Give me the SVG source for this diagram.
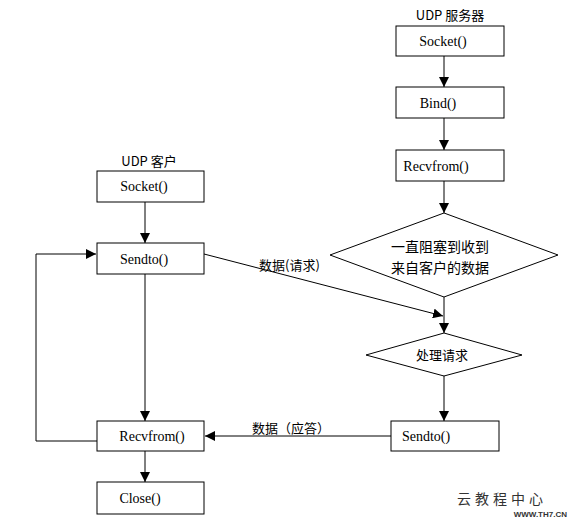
<svg xmlns="http://www.w3.org/2000/svg" width="572" height="521" viewBox="0 0 572 521">
<defs>
<style>
.box{fill:#fff;stroke:#000;stroke-width:1}
.lat{font-family:"Liberation Serif","Noto Sans CJK SC",serif;font-size:14px;fill:#000}
.cjk{font-family:"Noto Sans CJK SC",sans-serif;font-size:13px;fill:#000}
.big{font-size:14px}
.ln{fill:none;stroke:#000;stroke-width:1}
</style>
<marker id="ah" viewBox="0 0 10 10" refX="10" refY="5" markerWidth="10" markerHeight="10" markerUnits="userSpaceOnUse" orient="auto">
<path d="M0,0 L10,5 L0,10 z" fill="#000"/>
</marker>
</defs>
<rect width="572" height="521" fill="#fff"/>
<g id="connectors">
<line class="ln" x1="444" y1="56" x2="444" y2="87" marker-end="url(#ah)"/>
<line class="ln" x1="444" y1="118" x2="444" y2="150" marker-end="url(#ah)"/>
<line class="ln" x1="444" y1="181" x2="444" y2="213" marker-end="url(#ah)"/>
<line class="ln" x1="444" y1="297" x2="444" y2="333" marker-end="url(#ah)"/>
<line class="ln" x1="444" y1="375" x2="444" y2="421" marker-end="url(#ah)"/>
<line class="ln" x1="204" y1="254" x2="443" y2="316" marker-end="url(#ah)"/>
<line class="ln" x1="391" y1="436" x2="205" y2="436" marker-end="url(#ah)"/>
<line class="ln" x1="145" y1="202" x2="145" y2="243" marker-end="url(#ah)"/>
<line class="ln" x1="145" y1="274" x2="145" y2="421" marker-end="url(#ah)"/>
<line class="ln" x1="145" y1="451" x2="145" y2="482" marker-end="url(#ah)"/>
<polyline class="ln" points="97,441 36,441 36,254 96,254" marker-end="url(#ah)"/>
<text class="cjk" x="259" y="270">数据(请求)</text>
<text class="cjk" x="252" y="433">数据（应答）</text>
</g>
<g id="server-title"><text class="cjk" x="450" y="20" text-anchor="middle">UDP 服务器</text></g>
<g id="server-socket"><rect class="box" x="396" y="26" width="108" height="30"/><text class="lat" x="443" y="46" text-anchor="middle">Socket()</text></g>
<g id="server-bind"><rect class="box" x="396" y="87" width="108" height="31"/><text class="lat" x="438" y="108" text-anchor="middle">Bind()</text></g>
<g id="server-recvfrom"><rect class="box" x="396" y="150" width="108" height="31"/><text class="lat" x="436" y="171" text-anchor="middle">Recvfrom()</text></g>
<g id="server-block"><polygon class="box" points="444,213 558,255 444,297 330,255"/><text class="cjk big" x="440" y="252" text-anchor="middle">一直阻塞到收到</text><text class="cjk big" x="440" y="273" text-anchor="middle">来自客户的数据</text></g>
<g id="server-process"><polygon class="box" points="444,333 522,355 444,376 366,355"/><text class="cjk" x="442" y="360" text-anchor="middle">处理请求</text></g>
<g id="server-sendto"><rect class="box" x="391" y="421" width="108" height="30"/><text class="lat" x="426" y="441" text-anchor="middle">Sendto()</text></g>
<g id="client-title"><text class="cjk" x="149" y="166" text-anchor="middle">UDP 客户</text></g>
<g id="client-socket"><rect class="box" x="97" y="171" width="107" height="31"/><text class="lat" x="144" y="191" text-anchor="middle">Socket()</text></g>
<g id="client-sendto"><rect class="box" x="97" y="243" width="107" height="31"/><text class="lat" x="144" y="264" text-anchor="middle">Sendto()</text></g>
<g id="client-recvfrom"><rect class="box" x="97" y="421" width="107" height="30"/><text class="lat" x="152" y="441" text-anchor="middle">Recvfrom()</text></g>
<g id="client-close"><rect class="box" x="97" y="482" width="107" height="32"/><text class="lat" x="140" y="503" text-anchor="middle">Close()</text></g>
<g id="watermark"><text x="502" y="504" text-anchor="middle" font-family="Noto Sans CJK SC,sans-serif" font-size="14" letter-spacing="4" fill="#333">云教程中心</text><text x="567" y="517" text-anchor="end" font-family="Liberation Sans,sans-serif" font-size="8" font-weight="bold" fill="#333">WWW.TH7.CN</text></g>
</svg>
